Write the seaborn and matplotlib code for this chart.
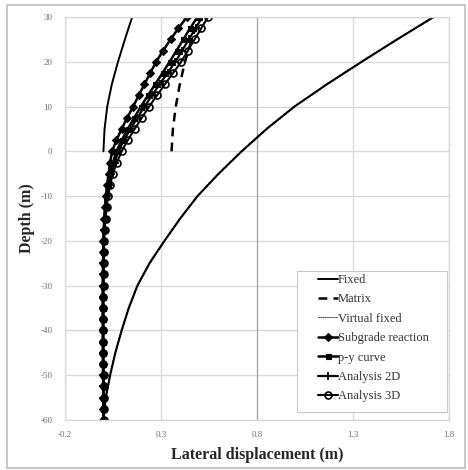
import numpy as np
import pandas as pd
import matplotlib
matplotlib.use("Agg")
import matplotlib.pyplot as plt
from matplotlib.patches import Rectangle
import seaborn as sns

# Depth (m) and lateral displacement (m) of each model
depth_top = [0, 5, 10, 15, 20, 25, 30]
fixed = [0.000, 0.006, 0.020, 0.044, 0.076, 0.112, 0.150]
matrix = [0.355, 0.362, 0.377, 0.398, 0.425, 0.460, 0.500]

depth_vf = [-60, -55, -50, -45, -40, -35, -30, -25, -20, -15,
            -10, -5, 0, 5, 10, 15, 20, 25, 30]
virtual_fixed = [0.000, 0.012, 0.035, 0.062, 0.095, 0.132, 0.177, 0.240, 0.318, 0.400,
                 0.490, 0.600, 0.720, 0.850, 0.995, 1.165, 1.345, 1.530, 1.720]

depth_full = [-60, -57.5, -55, -52.5, -50, -47.5, -45, -42.5, -40, -37.5,
              -35, -32.5, -30, -27.5, -25, -22.5, -20, -17.5, -15, -12.5,
              -10, -7.5, -5, -2.5, 0, 2.5, 5, 7.5, 10, 12.5,
              15, 17.5, 20, 22.5, 25, 27.5, 30]
subgrade = [0.000, 0.000, -0.001, -0.001, -0.002, -0.002, -0.003, -0.003, -0.003, -0.003,
            -0.004, -0.004, -0.003, -0.003, -0.002, -0.001, 0.000, 0.002, 0.004, 0.008,
            0.012, 0.019, 0.027, 0.035, 0.045, 0.068, 0.095, 0.124, 0.155, 0.184,
            0.214, 0.244, 0.275, 0.311, 0.350, 0.391, 0.435]
py_curve = [0.000, 0.000, 0.000, -0.001, -0.001, -0.001, -0.002, -0.002, -0.002, -0.002,
            -0.002, -0.002, -0.002, -0.001, -0.001, 0.000, 0.001, 0.003, 0.006, 0.011,
            0.016, 0.025, 0.035, 0.050, 0.068, 0.095, 0.127, 0.161, 0.195, 0.232,
            0.270, 0.308, 0.345, 0.381, 0.416, 0.452, 0.490]
analysis_2d = [0.001, 0.001, 0.000, 0.000, 0.000, -0.001, -0.001, -0.001, -0.001, -0.001,
               -0.001, -0.001, -0.001, 0.000, 0.000, 0.001, 0.002, 0.005, 0.008, 0.013,
               0.019, 0.029, 0.041, 0.058, 0.078, 0.107, 0.141, 0.177, 0.214, 0.253,
               0.293, 0.334, 0.375, 0.410, 0.445, 0.480, 0.515]
analysis_3d = [0.002, 0.002, 0.001, 0.001, 0.001, 0.000, 0.000, 0.000, 0.000, 0.000,
               0.000, 0.000, 0.001, 0.001, 0.002, 0.003, 0.004, 0.007, 0.011, 0.017,
               0.024, 0.035, 0.049, 0.070, 0.095, 0.127, 0.163, 0.200, 0.238, 0.279,
               0.321, 0.363, 0.405, 0.440, 0.475, 0.510, 0.545]

x_ticks = [-0.2, 0.3, 0.8, 1.3, 1.8]
y_ticks = [30, 20, 10, 0, -10, -20, -30, -40, -50, -60]

series = [
    ("Fixed", depth_top, fixed, dict(lw=1.4, ls="-")),
    ("Matrix", depth_top, matrix, dict(lw=1.8, ls=(0, (3.5, 2.5)))),
    ("Virtual fixed", depth_vf, virtual_fixed,
     dict(lw=1.8, ls=(0, (0.05, 0.75)), dash_capstyle="round")),
    ("Subgrade reaction", depth_full, subgrade,
     dict(lw=1.8, ls="-", marker="D", ms=3.8, mfc="black", mec="black", mew=0.8)),
    ("p-y curve", depth_full, py_curve,
     dict(lw=1.8, ls="-", marker="s", ms=3.6, mfc="black", mec="black", mew=0.8)),
    ("Analysis 2D", depth_full, analysis_2d,
     dict(lw=1.6, ls="-", marker="+", ms=5.5, mec="black", mew=1.3)),
    ("Analysis 3D", depth_full, analysis_3d,
     dict(lw=1.5, ls="-", marker="o", ms=5, mfc="none", mec="black", mew=1.2)),
]

frames = [pd.DataFrame({"model": name, "depth": d, "disp": v})
          for name, d, v, _ in series]
data = pd.concat(frames, ignore_index=True)

sns.set_theme(style="white")
plt.rcParams["font.family"] = ["Liberation Serif", "DejaVu Serif"]

fig = plt.figure(figsize=(4.68, 4.70), dpi=100)
ax = fig.add_axes([65 / 468, 1 - 420 / 470, 384 / 468, 403 / 470])

# outer chart frame
fig.patches.append(Rectangle((7 / 468, 2 / 470), 458 / 468, 463 / 470,
                             transform=fig.transFigure, fill=False,
                             edgecolor="#bdbdbd", lw=1.2))

for name, d, v, style in series:
    sub = data[data["model"] == name]
    sns.lineplot(data=sub, x="disp", y="depth", ax=ax, color="black",
                 sort=False, estimator=None, orient="y", label=name, **style)

ax.set_xlim(-0.2, 1.8)
ax.set_ylim(-60, 30)
ax.set_xticks(x_ticks)
ax.set_yticks(y_ticks)
ax.set_xticklabels([f"{t:.1f}" for t in x_ticks])
ax.set_yticklabels([str(t) for t in y_ticks])
ax.tick_params(axis="both", length=0, labelsize=6.5, labelcolor="#6e6e6e")
ax.tick_params(axis="x", pad=8)
ax.tick_params(axis="y", pad=9)

for t in y_ticks:
    ax.axhline(t, color="#d9d9d9", lw=1.0, zorder=0)
for t in x_ticks:
    ax.axvline(t, color="#a9a9a9" if t == 0.8 else "#dcdcdc", lw=1.0, zorder=0)
for s in ax.spines.values():
    s.set_color("#d9d9d9")
    s.set_linewidth(1.0)

ax.set_xlabel("Lateral displacement (m)", fontsize=11.5, fontweight="bold",
              labelpad=6)
ax.set_ylabel("Depth (m)", fontsize=11.5, fontweight="bold", labelpad=4)

# legend box
ax.add_patch(Rectangle((0.604, 0.0198), 0.391, 0.35, transform=ax.transAxes,
                       facecolor="white", edgecolor="#c8c8c8", lw=0.8, zorder=4))
leg = ax.legend(loc="upper left", bbox_to_anchor=(0.659, 0.362), fontsize=9,
                frameon=False, handlelength=1.6, handletextpad=0.0,
                labelspacing=0.59, borderpad=0, borderaxespad=0)
leg.set_zorder(5)
handles = leg.legend_handles
handles[2].set_linewidth(0.8)
handles[2].set_linestyle((0, (1, 1)))
handles[2].set_color("#555555")
for txt in leg.get_texts():
    txt.set_color("#333333")

fig.savefig("out.png", dpi=100, facecolor="white")
